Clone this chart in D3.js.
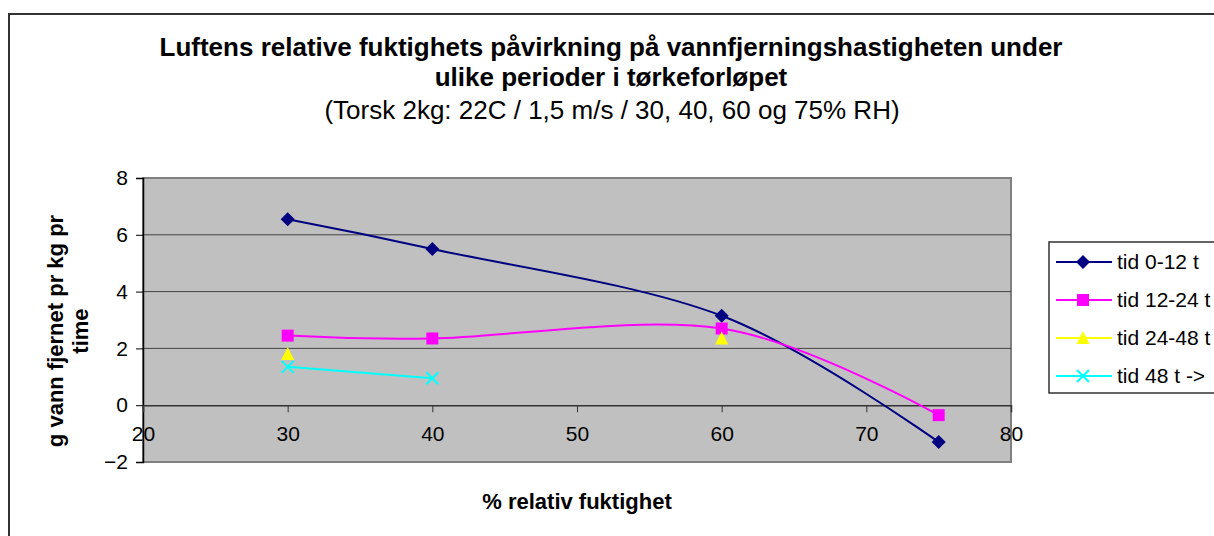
<!DOCTYPE html>
<html>
<head>
<meta charset="utf-8">
<script src="https://cdn.jsdelivr.net/npm/d3@7"></script>
<style>
  body { margin: 0; background: #fff; }
  svg { display: block; font-family: "Liberation Sans", Arial, sans-serif; }
</style>
</head>
<body>
<svg id="chart"></svg>
<script>
// data
var humidity = [30, 40, 60, 75];
var tid0_12 = [6.55, 5.5, 3.15, -1.3];
var tid12_24 = [2.45, 2.35, 2.7, -0.35];
var tid24_48 = [1.8, null, 2.35, null];
var tid48 = [1.35, 0.95, null, null];
var seriesNames = ["tid 0-12 t", "tid 12-24 t", "tid 24-48 t", "tid 48 t ->"];
var xTicks = [20, 30, 40, 50, 60, 70, 80];
var yTicks = [-2, 0, 2, 4, 6, 8];

var svgWidth = 1214, svgHeight = 536;
var svg = d3.select("#chart")
    .attr("width", svgWidth)
    .attr("height", svgHeight);

var colors = ["#000080", "#ff00ff", "#ffff00", "#00ffff"];
var shapes = ["diamond", "square", "triangle", "cross"];
var allSeries = [tid0_12, tid12_24, tid24_48, tid48];

var series = allSeries.map(function (vals, i) {
    return {
        name: seriesNames[i],
        color: colors[i],
        shape: shapes[i],
        points: humidity.map(function (h, j) { return {x: h, y: vals[j]}; })
    };
});

// outer chart border (runs off the window on right/bottom)
svg.append("rect")
    .attr("x", 9).attr("y", 14)
    .attr("width", 1240).attr("height", 560)
    .attr("fill", "#fff")
    .attr("stroke", "#333").attr("stroke-width", 2);

var plot = {left: 143, top: 178, right: 1011, bottom: 462};

var x = d3.scaleLinear().domain([20, 80]).range([plot.left, plot.right]);
var y = d3.scaleLinear().domain([-2, 8]).range([plot.bottom, plot.top]);

// plot area
svg.append("rect")
    .attr("x", plot.left).attr("y", plot.top)
    .attr("width", plot.right - plot.left)
    .attr("height", plot.bottom - plot.top)
    .attr("fill", "#c0c0c0")
    .attr("stroke", "#808080").attr("stroke-width", 2);

// gridlines
svg.append("g")
    .selectAll("line")
    .data([2, 4, 6])
    .enter()
    .append("line")
    .attr("x1", plot.left).attr("x2", plot.right)
    .attr("y1", function (d) { return y(d); })
    .attr("y2", function (d) { return y(d); })
    .attr("stroke", "#444").attr("stroke-width", 1);

// y axis
var yAxis = svg.append("g")
    .attr("transform", "translate(" + plot.left + ",0)")
    .call(d3.axisLeft(y).tickValues(yTicks).tickSize(7).tickPadding(8));
yAxis.select(".domain").attr("stroke", "#000").attr("stroke-width", 1.5);
yAxis.selectAll(".tick line").attr("stroke", "#000");
yAxis.selectAll("text").attr("font-size", 21).attr("fill", "#000")
    .attr("font-family", "Liberation Sans, Arial, sans-serif");

// x axis at y = 0
var xAxis = svg.append("g")
    .attr("transform", "translate(0," + y(0) + ")")
    .call(d3.axisBottom(x).tickValues(xTicks).tickSize(7).tickPadding(14));
xAxis.select(".domain").attr("stroke", "#333").attr("stroke-width", 1.5);
xAxis.selectAll(".tick line").attr("stroke", "#333");
xAxis.selectAll("text").attr("font-size", 21).attr("fill", "#000")
    .attr("font-family", "Liberation Sans, Arial, sans-serif");

// lines
var line = d3.line()
    .defined(function (d) { return d.y !== null; })
    .x(function (d) { return x(d.x); })
    .y(function (d) { return y(d.y); })
    .curve(d3.curveCatmullRom.alpha(0));

series.forEach(function (s) {
    svg.append("path")
        .datum(s.points)
        .attr("fill", "none")
        .attr("stroke", s.color)
        .attr("stroke-width", 2)
        .attr("d", line);
});

function drawMarker(g, shape, color) {
    if (shape === "diamond") {
        g.append("path").attr("d", "M0,-7L7,0L0,7L-7,0Z").attr("fill", color);
    } else if (shape === "square") {
        g.append("rect").attr("x", -6).attr("y", -6).attr("width", 12).attr("height", 12).attr("fill", color);
    } else if (shape === "triangle") {
        g.append("path").attr("d", "M0,-7L6.5,6L-6.5,6Z").attr("fill", color);
    } else {
        g.append("path").attr("d", "M-6,-6L6,6M-6,6L6,-6").attr("stroke", color).attr("stroke-width", 2);
    }
}

series.forEach(function (s) {
    s.points.filter(function (d) { return d.y !== null; }).forEach(function (d) {
        var g = svg.append("g").attr("transform", "translate(" + x(d.x) + "," + y(d.y) + ")");
        drawMarker(g, s.shape, s.color);
    });
});

// titles
svg.append("text")
    .attr("x", 611).attr("y", 56)
    .attr("text-anchor", "middle")
    .attr("font-size", 26).attr("font-weight", "bold")
    .text("Luftens relative fuktighets påvirkning på vannfjerningshastigheten under");
svg.append("text")
    .attr("x", 611).attr("y", 86)
    .attr("text-anchor", "middle")
    .attr("font-size", 26).attr("font-weight", "bold")
    .text("ulike perioder i tørkeforløpet");
svg.append("text")
    .attr("x", 612).attr("y", 119)
    .attr("text-anchor", "middle")
    .attr("font-size", 26)
    .text("(Torsk 2kg: 22C / 1,5 m/s / 30, 40, 60 og 75% RH)");

// axis titles
svg.append("text")
    .attr("x", 577).attr("y", 509)
    .attr("text-anchor", "middle")
    .attr("font-size", 22).attr("font-weight", "bold")
    .text("% relativ fuktighet");

var yTitle = svg.append("text")
    .attr("transform", "translate(63,331) rotate(-90)")
    .attr("text-anchor", "middle")
    .attr("font-size", 22).attr("font-weight", "bold");
yTitle.append("tspan").attr("x", 0).attr("y", 0).text("g vann fjernet pr kg pr");
yTitle.append("tspan").attr("x", 0).attr("y", 25).text("time");

// legend
var legend = svg.append("g");
legend.append("rect")
    .attr("x", 1049).attr("y", 242)
    .attr("width", 200).attr("height", 151)
    .attr("fill", "#fff")
    .attr("stroke", "#333").attr("stroke-width", 1.5);

var item = legend.selectAll("g.item")
    .data(series)
    .enter()
    .append("g")
    .attr("class", "item")
    .attr("transform", function (d, i) { return "translate(0," + (262 + i * 38) + ")"; });

item.append("line")
    .attr("x1", 1056).attr("x2", 1112)
    .attr("stroke", function (d) { return d.color; })
    .attr("stroke-width", 2);
item.each(function (d) {
    var g = d3.select(this).append("g").attr("transform", "translate(1083,0)");
    drawMarker(g, d.shape, d.color);
});
item.append("text")
    .attr("x", 1117).attr("y", 7)
    .attr("font-size", 21)
    .text(function (d) { return d.name; });
</script>
</body>
</html>
